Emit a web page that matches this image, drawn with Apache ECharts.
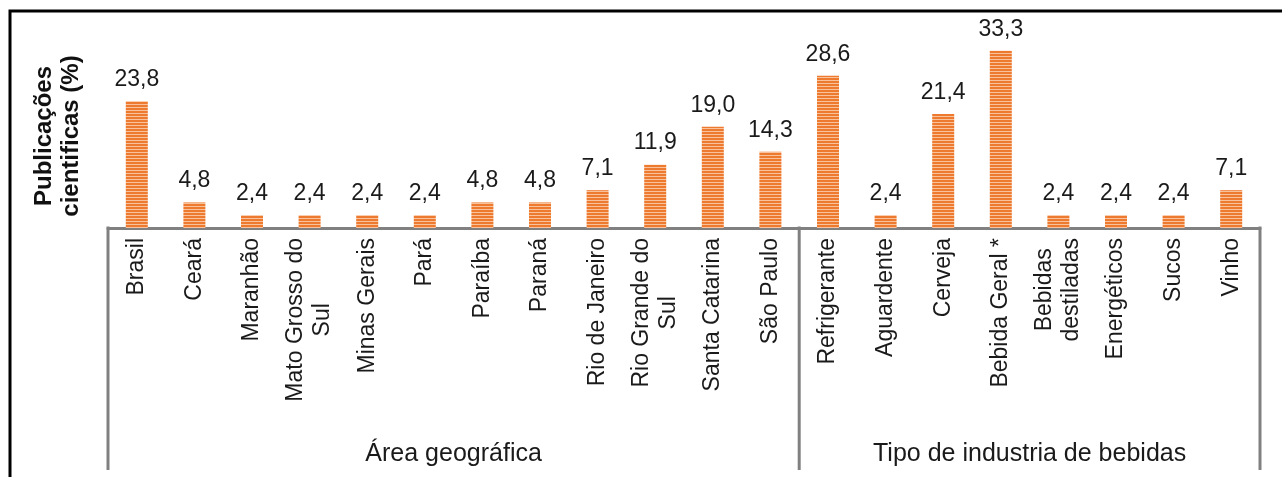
<!DOCTYPE html>
<html>
<head>
<meta charset="utf-8">
<script src="https://cdn.jsdelivr.net/npm/echarts@6/dist/echarts.min.js"></script>
<style>
  html, body { margin: 0; padding: 0; background: #fff; }
  #chart { width: 1282px; height: 477px; }
</style>
</head>
<body>
<div id="chart"></div>
<script>
// Categories (two groups: geographic area, then beverage industry type)
const categories = [
  'Brasil', 'Ceará', 'Maranhão', 'Mato Grosso do\nSul', 'Minas Gerais', 'Pará',
  'Paraíba', 'Paraná', 'Rio de Janeiro', 'Rio Grande do\nSul', 'Santa Catarina', 'São Paulo',
  'Refrigerante', 'Aguardente', 'Cerveja', 'Bebida Geral *', 'Bebidas\ndestiladas',
  'Energéticos', 'Sucos', 'Vinho'
];
// Share of scientific publications (%)
const values = [
  23.8, 4.8, 2.4, 2.4, 2.4, 2.4, 4.8, 4.8, 7.1, 11.9, 19.0, 14.3,
  28.6, 2.4, 21.4, 33.3, 2.4, 2.4, 2.4, 7.1
];
const groupNames = ['Área geográfica', 'Tipo de industria de bebidas'];
const groupSizes = [12, 8];
const yTitle = 'Publicações\ncientificas (%)';

const FONT = 'Liberation Sans, Arial, sans-serif';
const AXIS_GREY = '#808080';

// Horizontal striped fill for the bars
function stripePattern() {
  const c = document.createElement('canvas');
  c.width = 4; c.height = 3;
  const g = c.getContext('2d');
  g.fillStyle = '#EE7A30';
  g.fillRect(0, 0, 4, 2);
  g.fillStyle = '#F8C29C';
  g.fillRect(0, 2, 4, 1);
  return c;
}

const chart = echarts.init(document.getElementById('chart'), null, { renderer: 'canvas' });

chart.setOption({
  animation: false,
  backgroundColor: '#fff',
  grid: { left: 108, right: 22, top: 15, bottom: 249, containLabel: false },
  xAxis: {
    type: 'category',
    data: categories,
    boundaryGap: true,
    axisLine: { show: true, lineStyle: { color: AXIS_GREY, width: 3 } },
    axisTick: { show: false },
    axisLabel: {
      interval: 0,
      rotate: 90,
      margin: 10,
      color: '#1a1a1a',
      fontFamily: FONT,
      fontSize: 23,
      lineHeight: 27,
      formatter: v => v.split('\n').map(s => '{c|' + s + '}').join('\n'),
      rich: { c: { align: 'center', fontFamily: FONT, fontSize: 23, lineHeight: 27, color: '#1a1a1a' } }
    }
  },
  yAxis: {
    type: 'value',
    min: 0,
    max: 40,
    show: false
  },
  series: [{
    type: 'bar',
    data: values,
    barWidth: 22,
    itemStyle: { color: { image: stripePattern(), repeat: 'repeat' } },
    label: {
      show: true,
      position: 'top',
      distance: 10,
      color: '#1a1a1a',
      fontFamily: FONT,
      fontSize: 23,
      formatter: p => p.value.toFixed(1).replace('.', ',')
    }
  }]
});

// Group separators and group captions, placed from the category scale
function drawGroups() {
  const p0 = chart.convertToPixel({ xAxisIndex: 0 }, categories[0]);
  const p1 = chart.convertToPixel({ xAxisIndex: 0 }, categories[1]);
  const band = p1 - p0;
  const start = p0 - band / 2;
  const axisY = chart.convertToPixel({ yAxisIndex: 0 }, 0);
  const bottomY = 470;

  const elements = [];
  let idx = 0;
  const bounds = [start];
  groupSizes.forEach(n => { idx += n; bounds.push(start + idx * band); });

  bounds.forEach(x => {
    elements.push({
      type: 'line',
      shape: { x1: x, y1: axisY - 1.5, x2: x, y2: bottomY },
      style: { stroke: AXIS_GREY, lineWidth: 3 },
      silent: true
    });
  });
  groupNames.forEach((name, i) => {
    elements.push({
      type: 'text',
      x: (bounds[i] + bounds[i + 1]) / 2,
      y: 454,
      style: {
        text: name, fill: '#1a1a1a', font: '25px ' + FONT,
        align: 'center', verticalAlign: 'middle'
      },
      silent: true
    });
  });
  // y-axis title
  elements.push({
    type: 'text',
    x: 58,
    y: 136,
    rotation: Math.PI / 2,
    style: {
      text: yTitle, fill: '#111', font: 'bold 24px ' + FONT,
      align: 'center', verticalAlign: 'middle', lineHeight: 27
    },
    silent: true
  });
  // outer frame (left and top edges)
  elements.push({
    type: 'polyline',
    shape: { points: [[10, 477], [10, 11], [1282, 11]] },
    style: { stroke: '#000', lineWidth: 3, fill: null },
    silent: true
  });
  chart.setOption({ graphic: elements });
}
drawGroups();
</script>
</body>
</html>
